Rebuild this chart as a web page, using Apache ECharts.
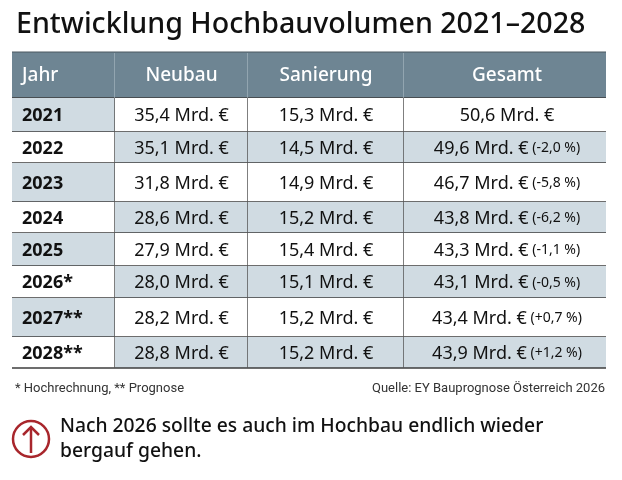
<!DOCTYPE html>
<html>
<head>
<meta charset="utf-8">
<script src="https://cdn.jsdelivr.net/npm/echarts@6/dist/echarts.min.js"></script>
<style>
  html, body { margin: 0; padding: 0; background: #fff; }
  #main { width: 622px; height: 480px; }
</style>
</head>
<body>
<div id="main"></div>
<script>
var headers = ['Jahr', 'Neubau', 'Sanierung', 'Gesamt'];
var years = ['2021', '2022', '2023', '2024', '2025', '2026*', '2027**', '2028**'];
var neubau = [35.4, 35.1, 31.8, 28.6, 27.9, 28.0, 28.2, 28.8];
var sanierung = [15.3, 14.5, 14.9, 15.2, 15.4, 15.1, 15.2, 15.2];
var gesamt = [50.6, 49.6, 46.7, 43.8, 43.3, 43.1, 43.4, 43.9];
var change = [null, -2.0, -5.8, -6.2, -1.1, -0.5, 0.7, 1.2];

// table layout (units of the hidden axes)
var colEdges = [0, 103, 236, 392, 594];
var rowEdges = [0, 46, 80, 111, 150, 181, 214, 246, 285, 316];

var FONT = '"Noto Sans", sans-serif';
var HEAD_BG = '#6e8593';
var SHADE = '#d0dbe2';
var LINE = '#3d3d3d';

function de(v) {
    return v.toFixed(1).replace('.', ',');
}

function mrd(v) {
    return de(v) + ' Mrd. €';
}

function pct(v) {
    return '(' + (v > 0 ? '+' : '-') + de(Math.abs(v)) + ' %)';
}

// one data item per cell: [col, row]
var cells = [];
for (var r = 0; r <= years.length; r++) {
    for (var c = 0; c < headers.length; c++) {
        cells.push([c, r]);
    }
}

function cellText(c, r) {
    if (r == 0) return headers[c];
    var i = r - 1;
    if (c == 0) return years[i];
    if (c == 1) return mrd(neubau[i]);
    if (c == 2) return mrd(sanierung[i]);
    if (change[i] == null) return '{a|' + mrd(gesamt[i]) + '}';
    return '{a|' + mrd(gesamt[i]) + '}{b| ' + pct(change[i]) + '}';
}

function renderCell(params, api) {
    var c = api.value(0);
    var r = api.value(1);
    var p0 = api.coord([colEdges[c], rowEdges[r]]);
    var p1 = api.coord([colEdges[c + 1], rowEdges[r + 1]]);
    var w = p1[0] - p0[0];
    var h = p1[1] - p0[1];
    var fill;
    if (r == 0) fill = HEAD_BG;
    else fill = ((r % 2 == 1) === (c == 0)) ? SHADE : '#fff';

    var children = [{
        type: 'rect',
        shape: { x: p0[0], y: p0[1], width: w, height: h },
        style: { fill: fill }
    }];

    var left = c == 0;
    var style = {
        text: cellText(c, r),
        x: left ? p0[0] + 10 : p0[0] + w / 2 + (c == 3 ? 2 : 0),
        y: p0[1] + h / 2 + 1,
        align: left ? 'left' : 'center',
        verticalAlign: 'middle',
        fontFamily: FONT,
        fill: '#111',
        fontSize: 18
    };
    if (r == 0) {
        style.fill = '#fff';
        style.fontSize = 19;
        style.fontWeight = 500;
    } else if (c == 0) {
        style.fontWeight = 'bold';
        style.fontSize = 18;
    } else if (c == 3) {
        style.rich = {
            a: { fontFamily: FONT, fontSize: 18, fill: '#111' },
            b: { fontFamily: FONT, fontSize: 14, fill: '#111' }
        };
    }
    children.push({ type: 'text', style: style });

    // bottom rule
    children.push({
        type: 'line',
        shape: { x1: p0[0], y1: p1[1], x2: p1[0], y2: p1[1] },
        style: { stroke: LINE, lineWidth: 1.5 }
    });
    // top rule of header
    if (r == 0) {
        children.push({
            type: 'line',
            shape: { x1: p0[0], y1: p0[1], x2: p1[0], y2: p0[1] },
            style: { stroke: '#4a5860', lineWidth: 1 }
        });
    }
    // column divider
    if (c < headers.length - 1) {
        children.push({
            type: 'line',
            shape: { x1: p1[0], y1: p0[1] + (r == 0 ? 1 : 0), x2: p1[0], y2: p1[1] },
            style: { stroke: r == 0 ? '#b7c5cd' : '#555', lineWidth: r == 0 ? 1 : 1.5 }
        });
    }
    return { type: 'group', children: children };
}

var chart = echarts.init(document.getElementById('main'), null, { renderer: 'canvas' });

chart.setOption({
    backgroundColor: '#fff',
    animation: false,
    title: [
        {
            text: 'Entwicklung Hochbauvolumen 2021–2028',
            left: 11,
            top: 5,
            textStyle: { fontFamily: FONT, fontSize: 28.6, fontWeight: 500, color: '#111' }
        },
        {
            text: '* Hochrechnung, ** Prognose',
            left: 10,
            top: 377,
            textStyle: { fontFamily: 'Roboto, sans-serif', fontSize: 13, fontWeight: 'normal', color: '#333' }
        },
        {
            text: 'Quelle: EY Bauprognose Österreich 2026',
            right: 12,
            top: 377,
            textStyle: { fontFamily: 'Roboto, sans-serif', fontSize: 13, fontWeight: 'normal', color: '#333' }
        }
    ],
    grid: { left: 12, top: 52, width: 594, height: 316 },
    xAxis: { type: 'value', min: 0, max: 594, show: false },
    yAxis: { type: 'value', min: 0, max: 316, inverse: true, show: false },
    series: [{
        type: 'custom',
        renderItem: renderCell,
        data: cells,
        clip: false
    }],
    graphic: [
        {
            type: 'circle',
            shape: { cx: 31, cy: 439, r: 18 },
            style: { fill: 'none', stroke: '#a8262c', lineWidth: 2.5 }
        },
        {
            type: 'polyline',
            shape: { points: [[31, 453], [31, 427]] },
            style: { stroke: '#a8262c', lineWidth: 2.5, fill: null }
        },
        {
            type: 'polyline',
            shape: { points: [[23, 435], [31, 427], [39, 435]] },
            style: { stroke: '#a8262c', lineWidth: 2.5, fill: null }
        },
        {
            type: 'text',
            left: 60,
            top: 414,
            style: {
                text: 'Nach 2026 sollte es auch im Hochbau endlich wieder\nbergauf gehen.',
                fontFamily: FONT,
                fontSize: 19.3,
                fontWeight: 500,
                lineHeight: 25,
                fill: '#111'
            }
        }
    ]
});
</script>
</body>
</html>
